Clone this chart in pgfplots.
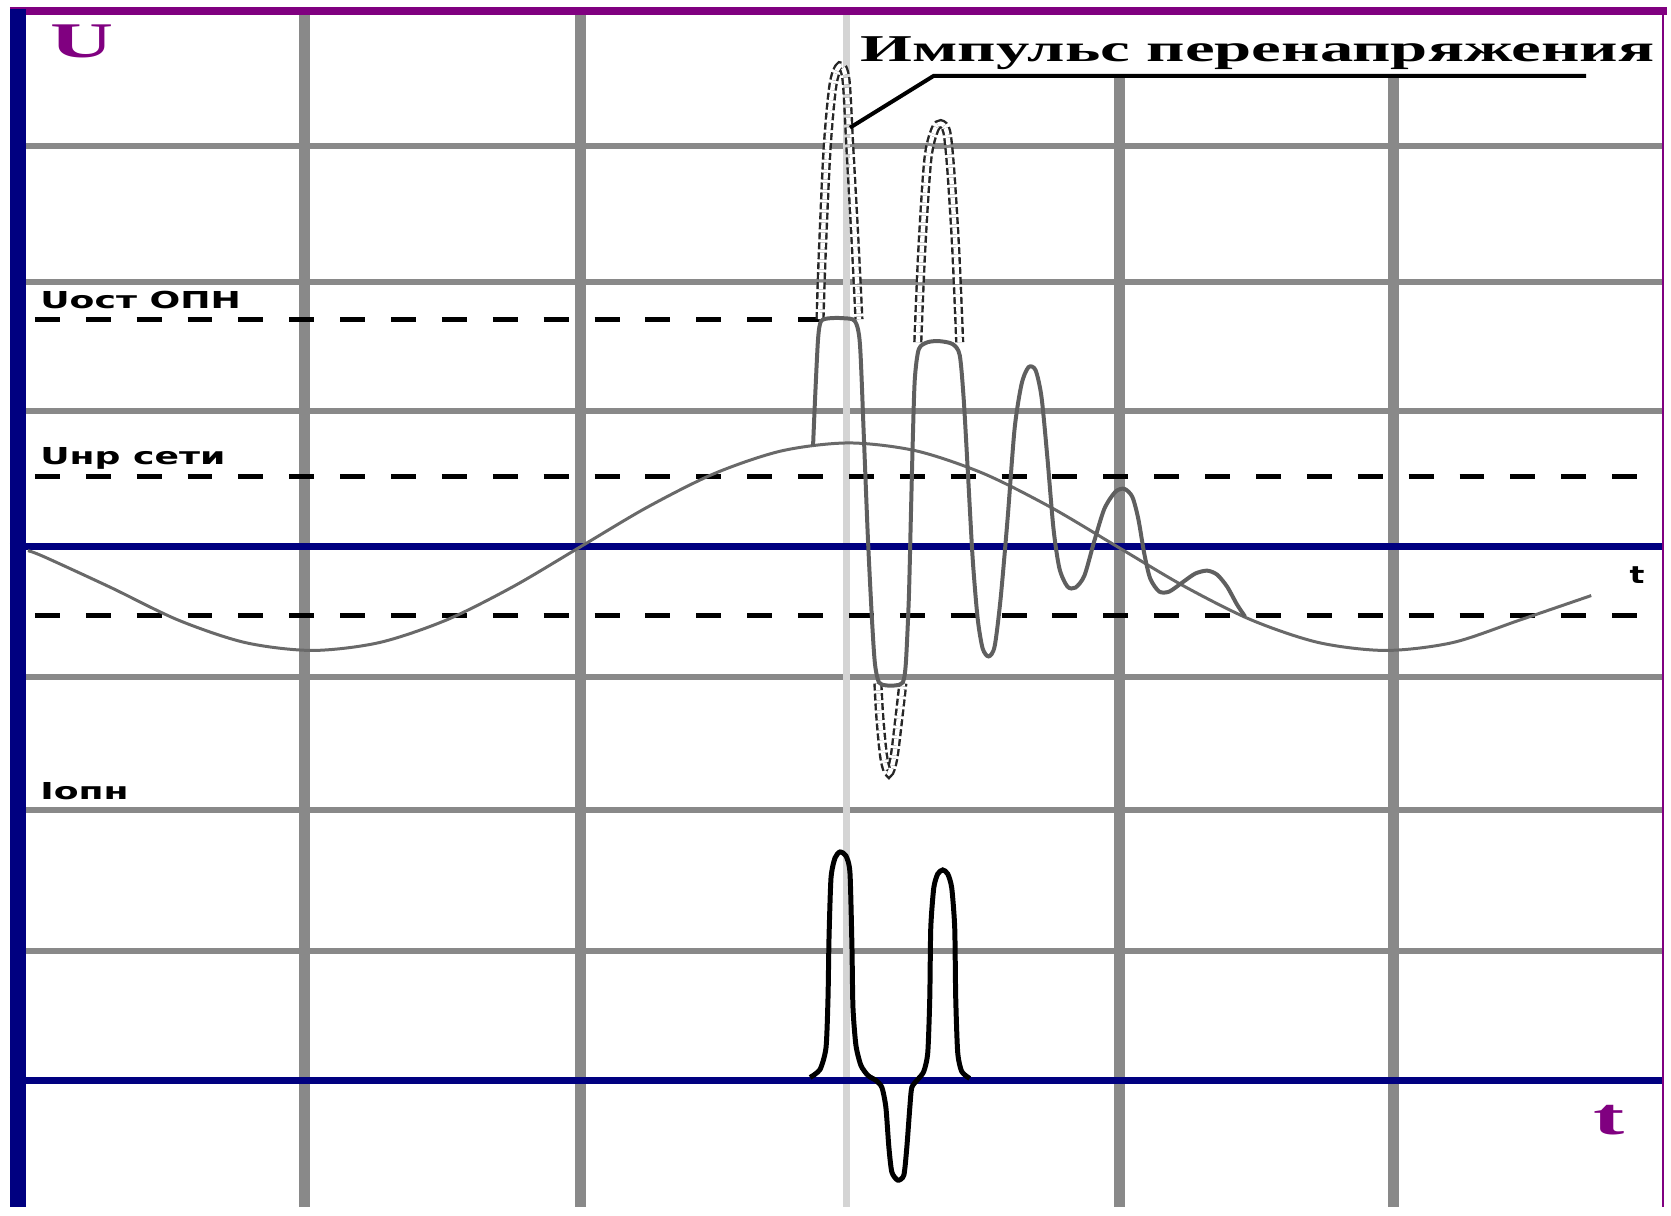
\documentclass[border=0pt]{standalone}
\usepackage{pgfplots}
\pgfplotsset{compat=1.18}
\usepackage{fontspec}
\setmainfont{Liberation Serif}
\newfontfamily\labfont{DejaVu Sans}
\definecolor{frameviolet}{RGB}{128,0,128}
\definecolor{navyline}{RGB}{0,0,128}
\definecolor{gridgray}{RGB}{137,137,137}
\definecolor{lightgrid}{RGB}{212,212,212}
\definecolor{wavegray}{RGB}{105,105,105}
\definecolor{osc}{RGB}{95,95,95}

\begin{document}
\begin{tikzpicture}
\begin{axis}[
  scale only axis, width=835.5pt, height=605pt,
  xmin=0, xmax=1671, ymin=0, ymax=1210, y dir=reverse,
  hide axis, clip=false,
]
\path (axis cs:0,0) rectangle (axis cs:1671,1210);

% grid
\foreach \yy in {146,283,412,679,812,953}{
  \edef\tmp{\noexpand\draw[gridgray, line width=3pt] (axis cs:20,\yy) -- (axis cs:1668,\yy);}\tmp
}
\draw[gridgray, line width=5.5pt] (axis cs:305,15) -- (axis cs:305,1210);
\draw[gridgray, line width=5.5pt] (axis cs:582,15) -- (axis cs:582,1210);
\draw[lightgrid, line width=3.5pt] (axis cs:849,15) -- (axis cs:849,1210);
\draw[gridgray, line width=5.5pt] (axis cs:1122,78) -- (axis cs:1122,1210);
\draw[gridgray, line width=5.5pt] (axis cs:1397,78) -- (axis cs:1397,1210);

% zero lines
\draw[navyline, line width=3.5pt] (axis cs:10,548) -- (axis cs:1668,548);
\draw[navyline, line width=3.5pt] (axis cs:10,1083) -- (axis cs:1668,1083);

% levels
\draw[black, line width=2.5pt, dash pattern=on 12.5pt off 13pt] (axis cs:35,320) -- (axis cs:822,320);
\draw[black, line width=2.5pt, dash pattern=on 12.5pt off 13pt] (axis cs:35,478) -- (axis cs:1668,478);
\draw[black, line width=2.5pt, dash pattern=on 12.5pt off 13pt] (axis cs:35,617) -- (axis cs:1668,617);

% frame
\draw[frameviolet, line width=4pt] (axis cs:10,11) -- (axis cs:1671,11);
\draw[frameviolet, line width=1pt] (axis cs:1667,11) -- (axis cs:1667,1210);
\draw[navyline, line width=8pt] (axis cs:18,9) -- (axis cs:18,1210);

% network voltage
\addplot[wavegray, line width=1.5pt, smooth] coordinates {
(28,552) (44,558) (111.25,589) (178.5,621.5) (245.75,644.1) (313,652)
(380.25,644.1) (447.5,621.5) (514.75,587.8) (582,548) (649.25,508.2)
(716.5,474.5) (783.75,451.9) (851,444) (918.25,451.9) (985.5,474.5)
(1052.75,508.2) (1120,548) (1187.25,587.8) (1254.5,621.5) (1321.75,644.1)
(1389,652) (1456.25,644.1) (1523.5,621.5) (1595,597)
};

% overvoltage without arrester (ghost)
\addplot[black!85, line width=1.2pt, double=white, double distance=2.2pt,
  dash pattern=on 3.5pt off 1.5pt, smooth, tension=0.5] coordinates {
(822,320) (824,260) (829,150) (835,85) (842,66) (848,80) (852,150) (857,240) (861,320)
};
\addplot[black!85, line width=1.2pt, double=white, double distance=2.2pt,
  dash pattern=on 3.5pt off 1.5pt, smooth, tension=0.5] coordinates {
(920,343) (924,250) (930,160) (937,130) (943,124) (949,132) (953,170) (958,250) (962,343)
};
\addplot[black!85, line width=1.2pt, double=white, double distance=2.2pt,
  dash pattern=on 3.5pt off 1.5pt, smooth, tension=0.5] coordinates {
(880,685) (882,720) (886,760) (891,775) (896,760) (901,720) (905,685)
};

% limited overvoltage
\addplot[osc, line width=2pt, smooth, tension=0.45] coordinates {
(815,447) (817,400) (820,340) (823,322) (832,319) (846,319) (857,322)
(862,345) (866,440) (870,540) (874,620) (877,665) (881,684) (888,687)
(898,687) (905,684) (908,665) (911,600) (913,520) (915,440) (917,380)
(921,350) (930,343) (942,342) (955,345) (962,356) (966,400) (970,470)
(975,560) (980,620) (985,650) (991,658) (997,648) (1003,600) (1010,520)
(1017,430) (1024,385) (1031,368) (1038,371) (1044,398) (1050,460)
(1056,530) (1062,570) (1070,588) (1078,589) (1087,577) (1097,542)
(1107,510) (1118,493) (1127,490) (1135,498) (1141,520) (1147,555)
(1153,580) (1162,593) (1172,593) (1185,584) (1198,575) (1210,572)
(1220,576) (1230,588) (1240,606) (1248,618)
};

% arrester current
\addplot[black, line width=2.5pt, smooth, tension=0.4] coordinates {
(812,1080) (822,1072) (828,1050) (830,1000) (831,940) (833,880) (837,860)
(842,854) (848,858) (852,875) (854,950) (855,1010) (858,1048) (863,1068)
(870,1078) (878,1083) (884,1090) (888,1110) (891,1150) (894,1175)
(900,1183) (906,1178) (909,1150) (912,1110) (914,1090) (920,1082)
(926,1074) (930,1055) (932,1000) (933,930) (936,890) (940,876) (945,872)
(950,876) (954,890) (957,930) (958,1000) (960,1055) (964,1074) (972,1081)
};

% leader
\draw[black, line width=2pt] (axis cs:852,128) -- (axis cs:936,76) -- (axis cs:1590,76);

% texts
\node[anchor=base west, inner sep=0pt, text=frameviolet] at (axis cs:50,58)
  {\scalebox{1.75}[1]{\fontsize{25}{25}\selectfont\bfseries U}};
\node[anchor=base west, inner sep=0pt, text=frameviolet] at (axis cs:1597,1137)
  {\scalebox{1.8}[1]{\fontsize{26}{26}\selectfont\bfseries t}};
\node[anchor=base west, inner sep=0pt] at (axis cs:862,62)
  {\scalebox{1.76}[1]{\fontsize{19}{19}\selectfont\bfseries Импульс перенапряжения}};
\node[anchor=base west, inner sep=0pt] at (axis cs:40,309)
  {\scalebox{1.55}[1]{\labfont\fontsize{11.7}{12}\selectfont\bfseries Uост ОПН}};
\node[anchor=base west, inner sep=0pt] at (axis cs:40,466)
  {\scalebox{1.55}[1]{\labfont\fontsize{11.7}{12}\selectfont\bfseries Uнр сети}};
\node[anchor=base west, inner sep=0pt] at (axis cs:40,801)
  {\scalebox{1.55}[1]{\labfont\fontsize{11.7}{12}\selectfont\bfseries Iопн}};
\node[anchor=base west, inner sep=0pt] at (axis cs:1633,585)
  {\scalebox{1.3}[1]{\labfont\fontsize{12}{12}\selectfont\bfseries t}};
\end{axis}
\end{tikzpicture}
\end{document}
